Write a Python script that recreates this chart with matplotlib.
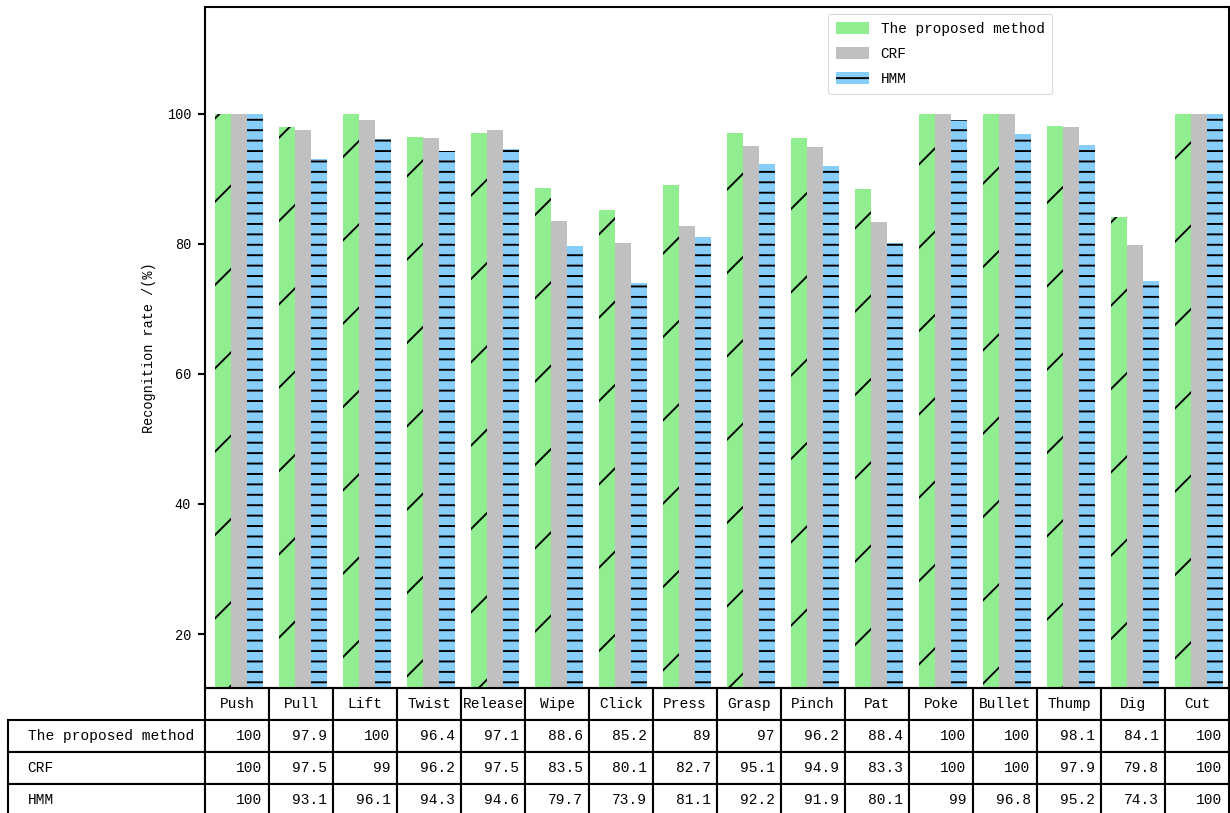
import numpy as np
import matplotlib
matplotlib.use("Agg")
import matplotlib.pyplot as plt
from matplotlib.table import Table

# recognition rate (%) per action for each method
actions = ["Push", "Pull", "Lift", "Twist", "Release", "Wipe", "Click", "Press",
           "Grasp", "Pinch", "Pat", "Poke", "Bullet", "Thump", "Dig", "Cut"]
methods = ["The proposed method", "CRF", "HMM"]
proposed = [100, 97.9, 100, 96.4, 97.1, 88.6, 85.2, 89, 97, 96.2, 88.4, 100, 100, 98.1, 84.1, 100]
crf = [100, 97.5, 99, 96.2, 97.5, 83.5, 80.1, 82.7, 95.1, 94.9, 83.3, 100, 100, 97.9, 79.8, 100]
hmm = [100, 93.1, 96.1, 94.3, 94.6, 79.7, 73.9, 81.1, 92.2, 91.9, 80.1, 99, 96.8, 95.2, 74.3, 100]

plt.rcParams['font.family'] = ['Liberation Mono', 'DejaVu Sans Mono']
plt.rcParams['hatch.linewidth'] = 0.55
plt.rcParams['hatch.color'] = 'black'
plt.rcParams['axes.linewidth'] = 0.6

DPI = 250
W, H = 1230, 813
fig = plt.figure(figsize=(W / DPI, H / DPI), dpi=DPI)
ax_l, ax_r, ax_t, ax_b = 205, 1229, 7, 688
ax = fig.add_axes([ax_l / W, 1 - ax_b / H, (ax_r - ax_l) / W, (ax_b - ax_t) / H])

x = np.arange(len(actions))
bw = 0.25
series = [proposed, crf, hmm]
colors = ['#90EE90', '#C0C0C0', '#87CEFA']
hatches = ['/', None, '----']
for k, (vals, c, h, name) in enumerate(zip(series, colors, hatches, methods)):
    ax.bar(x + (k - 1) * bw, vals, bw, color=c, hatch=h, linewidth=0, label=name)

ax.set_xlim(-0.535, len(actions) - 0.535)
ax.set_ylim(11.7, 116.4)
ax.set_xticks([])
ax.set_yticks([20, 40, 60, 80, 100])
ax.tick_params(axis='y', length=2, width=0.6, pad=2, labelsize=3.9)
ax.set_ylabel("Recognition rate /(%)", fontsize=3.9, labelpad=3)

leg = ax.legend(loc='upper left', bbox_to_anchor=((828 - ax_l) / (ax_r - ax_l), (ax_b - 14) / (ax_b - ax_t)),
                borderaxespad=0, fontsize=4.15, frameon=True, fancybox=True,
                handlelength=2.3, handleheight=0.95, labelspacing=0.75,
                borderpad=0.55)
leg.get_frame().set_linewidth(0.3)
leg.get_frame().set_edgecolor('#d0d0d0')

# data table under the bars
axes_h = ax_b - ax_t
row_h = 32 / axes_h
col_w = 1 / len(actions)
label_w = 197 / (ax_r - ax_l)
tb = Table(ax, loc='bottom')
for j, name in enumerate(actions):
    tb.add_cell(0, j, col_w, row_h, text=name, loc='center')
for i, (name, vals) in enumerate(zip(methods, series), start=1):
    tb.add_cell(i, -1, label_w, row_h, text=name, loc='left')
    for j, v in enumerate(vals):
        tb.add_cell(i, j, col_w, row_h, text=f"{v:g}", loc='right')
tb.auto_set_font_size(False)
tb.set_fontsize(4.2)
for cell in tb.get_celld().values():
    cell.set_linewidth(0.6)
ax.add_table(tb)

fig.savefig("out.png", dpi=DPI)
